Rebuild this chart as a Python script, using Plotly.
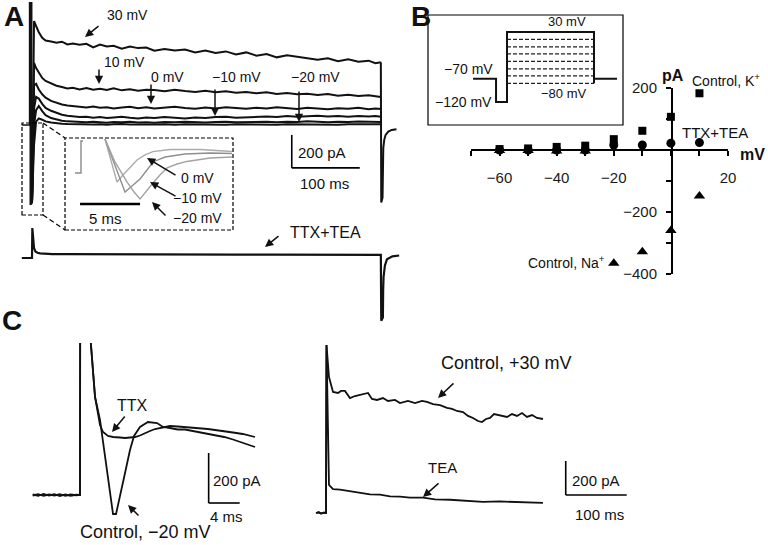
import plotly.graph_objects as go

W, H = 768, 545
FONT = "Liberation Sans, Arial, sans-serif"

# ---------------- Panel A: control sweeps (time ms, current pA) ----------------
a_time_ms = [0, 3, 6, 10, 15, 20, 28, 36, 44, 52, 60, 70, 80, 90, 100, 110, 120, 132, 144, 156,
             168, 180, 195, 210, 225, 240, 255, 270, 285, 300, 315, 330, 345, 360, 375, 390, 405,
             420, 435, 450, 465, 480, 495, 505, 513]
a_30mV = [-470, 630, 600, 562, 528, 512, 506, 498, 505, 488, 494, 486, 492, 470, 488, 476, 480, 462,
          476, 466, 470, 450, 460, 452, 458, 440, 452, 436, 446, 428, 440, 420, 430, 410, 422, 414,
          402, 396, 404, 386, 398, 384, 390, 374, 380]
a_10mV = [-470, 376, 345, 315, 285, 267, 250, 238, 230, 222, 226, 216, 224, 214, 220, 212, 222, 210,
          216, 208, 214, 212, 204, 214, 206, 200, 208, 198, 204, 196, 200, 192, 198, 188, 194, 186,
          190, 182, 188, 178, 184, 176, 180, 172, 170]
a_0mV = [-470, 240, 250, 215, 186, 166, 146, 133, 124, 118, 114, 110, 106, 112, 104, 108, 100, 106,
         110, 102, 108, 100, 104, 110, 103, 98, 106, 100, 108, 102, 98, 105, 100, 108, 103, 97, 104,
         100, 95, 102, 98, 104, 96, 100, 97]
a_m10mV = [-470, 100, 170, 160, 128, 104, 86, 72, 62, 56, 52, 48, 50, 44, 48, 42, 46, 50, 44, 40,
           46, 42, 48, 44, 40, 46, 42, 48, 50, 44, 46, 50, 52, 48, 54, 50, 52, 56, 52, 54, 50, 55,
           52, 54, 50]
a_m20mV = [-470, 0, 90, 115, 84, 60, 42, 32, 26, 22, 20, 18, 16, 20, 17, 14, 18, 16, 19, 15, 17,
           14, 18, 16, 20, 17, 15, 18, 20, 16, 18, 21, 19, 17, 20, 18, 22, 19, 17, 20, 18, 21, 19,
           18, 18]
a_m30mV = [-470, -120, 20, 40, 32, 22, 15, 10, 8, 6, 5, 4, 6, 3, 5, 2, 4, 6, 3, 2, 4, 3, 5, 2, 4,
           3, 5, 4, 2, 4, 3, 5, 4, 2, 4, 3, 5, 3, 4, 2, 4, 3, 5, 3, 4]
a_artifact_ms = [-15, -3.5, -3.5, -2.5, -2.5, -1.5, -1.5, -0.5, -0.5, 0]
a_artifact_pA = [0, 0, 740, 740, -480, -480, 740, 740, -480, -470]
a_tail_ms = [513, 513.6, 515.5, 516.2, 516.6, 518, 520, 524, 529, 536]
a_tail_pA = [380, -470, -440, -300, -140, -90, -60, -40, -30, -26]

# TTX+TEA sweep (+30 mV)
att_ms = [-15, -0.5, 0, 0.5, 1.5, 3, 5, 8, 12, 20, 30, 50, 80, 120, 160, 200, 250, 300, 350, 400,
          450, 513, 513.6, 516, 516.4, 517, 519, 522, 530, 540]
att_pA = [0, 0, 0, 182, 110, 60, 40, 32, 28, 25, 24, 24, 23, 22, 22, 21, 21, 20, 20, 19, 19, 19,
          -380, -360, -200, -115, -45, -8, 10, 15]

# Inset: Na currents on expanded time scale
in_step_ms = [-0.5, 0, 0, 0.17]
in_step_pA = [-177, -177, 69, 69]
in_0mV_ms = [2.0, 2.5, 3.0, 3.5, 4.08, 4.67, 5.33, 6.0, 7.42, 9.92, 12.58]
in_0mV_pA = [85, -85, -246, -192, -131, -77, -38, -12, 4, 4, -12]
in_m10mV_ms = [2.0, 2.67, 3.17, 3.67, 4.25, 4.92, 5.5, 6.0, 7.0, 8.67, 10.75, 12.58]
in_m10mV_pA = [85, -77, -200, -323, -277, -223, -154, -92, -54, -31, -23, -27]
in_m20mV_ms = [2.0, 2.83, 3.83, 4.42, 4.92, 5.5, 6.0, 6.58, 7.17, 8.0, 8.83, 10.75, 12.58]
in_m20mV_pA = [85, -92, -246, -323, -377, -308, -254, -192, -138, -108, -88, -62, -54]

# ---------------- Panel B: I-V relation ----------------
iv_mV = [-60, -50, -40, -30, -20, -10, 0, 10]
iv_k_pA = [3, 5, 10, 14, 35, 62, 107, 183]
iv_ttxtea_pA = [0, 0, 0, 0, 16, 16, 22, 24]
iv_na_pA = [-2, -2, -3, -3, -365, -328, -260, -148]
x_tick_mV = [-70, -60, -50, -40, -30, -20, -10, 0, 10, 20]
x_tick_text = ["", "−60", "", "−40", "", "−20", "", "", "", "20"]
y_tick_pA = [-400, -300, -200, -100, 0, 100, 200]
y_tick_text = ["−400", "", "−200", "", "", "", "200"]

# Voltage protocol (schematic, levels as drawn)
prot_ms = [-195, -63, -63, 0, 0, 500, 500, 500, 632]
prot_mV = [-70, -70, -120, -120, 30, 30, -80, -70, -70]
step_mV = [14, -2, -17, -33, -49, -64, -80]
step_start_ms, step_end_ms = 0, 500

# ---------------- Panel C ----------------
cL_ctrl_ms = [-6.1, -5.4, -4.7, -4.0, -3.3, -2.6, -1.9, -1.2, -0.5, 0, 0.05, 1.25, 1.29, 1.94, 2.58,
              3.23, 3.87, 4.26, 4.65, 5.16, 5.81, 6.45, 6.97, 7.74, 8.77, 9.94, 10.71, 11.61, 12.6,
              13.55, 14.5, 15.48, 16.5, 17.42, 18.6, 19.74, 21.0, 22.58]
cL_ctrl_pA = [2, -3, 4, -2, 3, -4, 2, -3, 1, 0, 1500, 1500, 650, 392, 300, 160, 12, -76, -76, -8,
              88, 180, 236, 272, 292, 288, 272, 268, 262, 262, 256, 252, 246, 240, 232, 222, 210, 192]
cL_ttx_ms = [-6.1, -5.4, -4.7, -4.0, -3.3, -2.6, -1.9, -1.2, -0.5, 0, 0.05, 1.25, 1.29, 1.94, 2.58,
             2.97, 3.61, 4.26, 5.16, 5.81, 6.45, 7.10, 7.74, 8.39, 9.03, 9.68, 10.71, 11.61, 12.6,
             13.55, 14.5, 15.48, 16.5, 17.42, 18.6, 19.74, 21.0, 22.58]
cL_ttx_pA = [-2, 3, -3, 2, -2, 3, -3, 2, -1, 0, 1500, 1500, 650, 392, 280, 252, 236, 232, 230, 228,
             230, 232, 238, 248, 256, 264, 272, 276, 274, 272, 270, 266, 264, 260, 256, 250, 244, 232]
cR_ctrl_ms = [-16.4, -12, -8, -4, 0, 0.8, 4.9, 11.5, 19.7, 24.6, 31.1, 39.3, 47.5, 55.7, 68.9, 75.4,
              83.6, 93.4, 101.6, 113.1, 121.3, 134.4, 145.9, 157.4, 165.6, 175.4, 186.9, 198.4,
              206.6, 214.8, 224.6, 232.8, 241.0, 249.2, 255.7, 262.3, 268.9, 275.4, 285.2, 296.7,
              304.9, 313.1, 321.3, 329.5, 337.7, 345.9, 355.7]
cR_ctrl_pA = [0, 4, -3, 2, 0, 988, 800, 712, 706, 718, 718, 676, 688, 694, 706, 671, 665, 676, 659,
              665, 647, 659, 647, 659, 653, 641, 635, 618, 612, 600, 594, 571, 559, 541, 535, 553,
              559, 582, 576, 565, 582, 571, 588, 565, 576, 559, 553]
cR_tea_ms = [-16.4, -12, -8, -4, 0, 0.8, 4.9, 11.5, 23.0, 39.3, 55.7, 72.1, 88.5, 104.9, 121.3,
             137.7, 159.0, 178.7, 203.3, 227.9, 257.4, 285.2, 318.0, 355.7]
cR_tea_pA = [0, 4, -3, 2, 0, 988, 165, 141, 137, 127, 120, 110, 108, 98, 96, 90, 90, 80, 78, 74,
             66, 68, 62, 59]


# ---------------- helpers ----------------
def xdef(p0, p1, origin, scale, anchor):
    return dict(domain=[p0 / W, p1 / W], range=[(p0 - origin) / scale, (p1 - origin) / scale],
                visible=False, anchor=anchor, fixedrange=True, automargin=False)


def ydef(p0, p1, origin, scale, anchor):
    return dict(domain=[1 - p1 / H, 1 - p0 / H], range=[(origin - p1) / scale, (origin - p0) / scale],
                visible=False, anchor=anchor, fixedrange=True, automargin=False)


fig = go.Figure()


def line(x, y, xa, ya, color="#111111", width=2.0, dash=None):
    fig.add_trace(go.Scatter(x=x, y=y, mode="lines", xaxis=xa, yaxis=ya,
                             line=dict(color=color, width=width, dash=dash),
                             hoverinfo="skip", showlegend=False))


# Panel A traces
for sweep in [a_m30mV, a_m20mV, a_m10mV, a_0mV, a_10mV, a_30mV]:
    line(a_time_ms, sweep, "x", "y", width=2)
line(a_artifact_ms, a_artifact_pA, "x", "y", width=1.6)
line(a_tail_ms, a_tail_pA, "x", "y", width=2)
line(att_ms, att_pA, "x", "y2", width=2.2)

# Inset traces
line(in_step_ms, in_step_pA, "x3", "y3", color="#8a8a8a", width=1.4)
line(in_0mV_ms, in_0mV_pA, "x3", "y3", color="#ababab", width=1.4)
line(in_m10mV_ms, in_m10mV_pA, "x3", "y3", color="#8f8f8f", width=1.4)
line(in_m20mV_ms, in_m20mV_pA, "x3", "y3", color="#a3a3a3", width=1.4)

# Panel B: protocol
sx, sy = [], []
for v in step_mV:
    sx += [step_start_ms, step_end_ms, None]
    sy += [v, v, None]
line(sx, sy, "x5", "y5", color="#222222", width=1.3, dash="4px,2px")
line(prot_ms, prot_mV, "x5", "y5", color="#111111", width=2)

# Panel B: I-V
for vals, sym, size in [(iv_k_pA, "square", 8), (iv_ttxtea_pA, "circle", 9), (iv_na_pA, "triangle-up", 10)]:
    fig.add_trace(go.Scatter(x=iv_mV, y=vals, mode="markers", xaxis="x4", yaxis="y4",
                             marker=dict(symbol=sym, size=size, color="black"),
                             cliponaxis=False, hoverinfo="skip", showlegend=False))

# Panel C
line(cL_ttx_ms, cL_ttx_pA, "x6", "y6", width=1.8)
line(cL_ctrl_ms, cL_ctrl_pA, "x6", "y6", width=1.8)
line(cR_tea_ms, cR_tea_pA, "x7", "y7", width=1.8)
line(cR_ctrl_ms, cR_ctrl_pA, "x7", "y7", width=1.8)

tickfont = dict(family=FONT, size=15, color="#1a1a1a")
layout = dict(
    width=W, height=H, autosize=False,
    margin=dict(l=0, r=0, t=0, b=0, pad=0, autoexpand=False),
    paper_bgcolor="white", plot_bgcolor="rgba(0,0,0,0)", showlegend=False,
    xaxis=xdef(15, 402, 32, 0.68, "y"),
    yaxis=ydef(0, 215, 125, 0.165, "x"),
    yaxis2=ydef(215, 335, 258, 0.165, "x"),
    xaxis3=xdef(65, 233, 81, 12, "y3"),
    yaxis3=ydef(138, 230, 150, 0.13, "x3"),
    xaxis5=xdef(430, 621, 507, 0.174, "y5"),
    yaxis5=ydef(17, 123, 46, 0.4667, "x5"),
    xaxis6=xdef(20, 278, 80, 7.75, "y6"),
    yaxis6=ydef(343, 532, 495, 0.25, "x6"),
    xaxis7=xdef(305, 640, 326, 0.61, "y7"),
    yaxis7=ydef(340, 532, 513, 0.17, "x7"),
    xaxis4=dict(domain=[471 / W, 728 / W], range=[-70, 20], anchor="free", position=1 - 150 / H,
                showline=True, linecolor="black", linewidth=2, ticks="outside", ticklen=5,
                tickwidth=1.5, tickcolor="black", tickvals=x_tick_mV, ticktext=x_tick_text,
                tickfont=tickfont, showgrid=False, zeroline=False, ticklabelstandoff=9,
                fixedrange=True, automargin=False),
    yaxis4=dict(domain=[1 - 274 / H, 1 - 88 / H], range=[-400, 200], anchor="free", position=672 / W,
                showline=True, linecolor="black", linewidth=2, ticks="outside", ticklen=5,
                tickwidth=1.5, tickcolor="black", tickvals=y_tick_pA, ticktext=y_tick_text,
                tickfont=tickfont, showgrid=False, zeroline=False, ticklabelstandoff=6,
                fixedrange=True, automargin=False),
)
fig.update_layout(**layout)


# ---------------- shapes ----------------
def pline(x0, y0, x1, y1, width=1.2, dash=None):
    return dict(type="line", xref="paper", yref="paper", x0=x0 / W, y0=1 - y0 / H, x1=x1 / W,
                y1=1 - y1 / H, line=dict(color="black", width=width, dash=dash))


def prect(x0, y0, x1, y1, width=1.2, dash=None):
    return dict(type="rect", xref="paper", yref="paper", x0=x0 / W, y0=1 - y1 / H, x1=x1 / W,
                y1=1 - y0 / H, line=dict(color="black", width=width, dash=dash))


def dline(xr, yr, x0, y0, x1, y1, width=1.6):
    return dict(type="line", xref=xr, yref=yr, x0=x0, y0=y0, x1=x1, y1=y1,
                line=dict(color="black", width=width))


shapes = [
    prect(22, 123, 43, 215, dash="4px,2px"),
    prect(65, 138, 233, 230, dash="4px,2px"),
    pline(43, 123, 65, 138, dash="5px,3px"),
    pline(43, 215, 65, 230, dash="5px,3px"),
    prect(428, 15, 623, 125, width=1.2),
    # scale bars (data units)
    dline("x", "y", 382, -260, 382, -60),
    dline("x", "y", 382, -260, 482, -260),
    dline("x3", "y3", -0.08, -415, 4.92, -415, width=2.6),
    dline("x6", "y6", 16.6, -32, 16.6, 168),
    dline("x6", "y6", 16.6, -32, 20.6, -32),
    dline("x7", "y7", 393, 106, 393, 306),
    dline("x7", "y7", 393, 106, 493, 106),
]
fig.update_layout(shapes=shapes)

# ---------------- annotations ----------------
ann = []


def txt(x, y, s, size, bold=False, xanchor="center"):
    ann.append(dict(x=x / W, y=1 - y / H, xref="paper", yref="paper", text=f"<b>{s}</b>" if bold else s,
                    showarrow=False, xanchor=xanchor, yanchor="middle",
                    font=dict(family=FONT, size=size, color="#111111")))


def arrow(tx, ty, hx, hy):
    ann.append(dict(x=hx / W, y=1 - hy / H, xref="paper", yref="paper", text="", showarrow=True,
                    ax=tx - hx, ay=ty - hy, arrowhead=2, arrowsize=1.1, arrowwidth=1.5,
                    arrowcolor="#111111"))


def dtxt(xr, yr, x, y, s, size, xanchor="center", yshift=0):
    ann.append(dict(x=x, y=y, xref=xr, yref=yr, text=s, showarrow=False, xanchor=xanchor,
                    yanchor="middle", yshift=yshift, font=dict(family=FONT, size=size, color="#111111")))


txt(14, 17, "A", 28, bold=True)
txt(421, 17, "B", 28, bold=True)
txt(12, 320, "C", 28, bold=True)

# Panel A
txt(127, 15, "30 mV", 14)
txt(124, 62, "10 mV", 14)
txt(167, 77, "0 mV", 14)
txt(236, 77, "−10 mV", 14)
txt(315, 77, "−20 mV", 14)
txt(322, 152, "200 pA", 15)
txt(324, 183, "100 ms", 15)
txt(197, 178, "0 mV", 14)
txt(197, 198, "−10 mV", 14)
txt(197, 218, "−20 mV", 14)
txt(105, 218, "5 ms", 15)
txt(325, 233, "TTX+TEA", 16)
arrow(100, 25, 85, 37)
arrow(99, 68, 99, 84)
arrow(151, 83, 151, 104)
arrow(215, 88, 215, 116)
arrow(299, 90, 299, 122)
arrow(177, 176, 147, 158)
arrow(177, 197, 150, 182)
arrow(167, 217, 152, 202)
arrow(280, 235, 265, 247)

# Panel B
dtxt("x5", "y5", 345, 30, "30 mV", 13, yshift=10)
dtxt("x5", "y5", -69, -70, "−70 mV", 14, xanchor="right", yshift=10)
dtxt("x5", "y5", -72, -120, "−120 mV", 14, xanchor="right")
dtxt("x5", "y5", 322, -80, "−80 mV", 13, yshift=-10)
txt(673, 75, "pA", 16, bold=True)
txt(726, 80, "Control, K<sup>+</sup>", 14)
txt(715, 133, "TTX+TEA", 15)
txt(566, 262, "Control, Na<sup>+</sup>", 14)
txt(752, 154, "mV", 16, bold=True)

# Panel C
txt(132, 405, "TTX", 16)
txt(145, 532, "Control, −20 mV", 18)
txt(237, 480, "200 pA", 15)
txt(226, 516, "4 ms", 15)
txt(506, 363, "Control, +30 mV", 18)
txt(442, 467, "TEA", 15)
txt(596, 480, "200 pA", 15)
txt(599, 514, "100 ms", 15)
arrow(126, 415, 112, 432)
arrow(140, 517, 128, 505)
arrow(455, 382, 438, 398)
arrow(440, 482, 423, 497)

fig.update_layout(annotations=ann)
fig.write_html(
    "out.html",
    config={"displayModeBar": False, "responsive": False},
    post_script="document.documentElement.style.margin='0';document.body.style.margin='0';"
                "document.body.style.padding='0';document.body.style.overflow='hidden';",
)
